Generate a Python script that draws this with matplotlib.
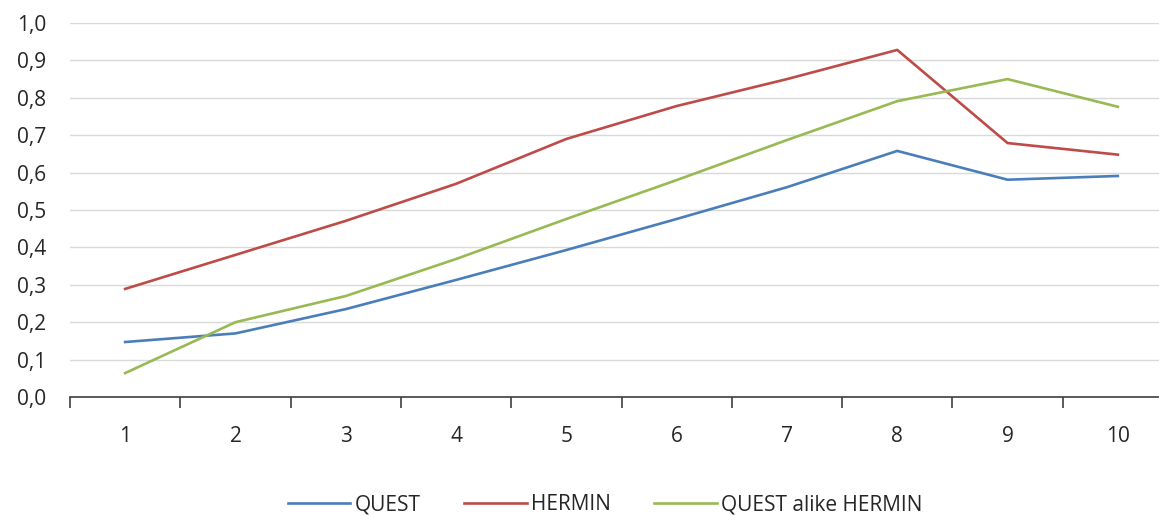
import matplotlib
matplotlib.use("Agg")
import matplotlib.pyplot as plt

plt.rcParams['font.family'] = ['Open Sans', 'DejaVu Sans']

x = [1, 2, 3, 4, 5, 6, 7, 8, 9, 10]
quest = [0.147, 0.170, 0.235, 0.313, 0.393, 0.476, 0.561, 0.658, 0.581, 0.591]
hermin = [0.289, 0.380, 0.471, 0.570, 0.690, 0.778, 0.850, 0.928, 0.679, 0.648]
quest_alike = [0.064, 0.200, 0.270, 0.369, 0.476, 0.580, 0.687, 0.791, 0.850, 0.776]
y_ticks = [0.0, 0.1, 0.2, 0.3, 0.4, 0.5, 0.6, 0.7, 0.8, 0.9, 1.0]

fig = plt.figure(figsize=(11.59, 5.15), dpi=100)
ax = fig.add_axes([70/1159, 1-397/515, 1103/1159, 374/515])

ax.plot(x, quest, color='#4a7ebb', lw=1.9, label='QUEST')
ax.plot(x, hermin, color='#be4b48', lw=1.9, label='HERMIN')
ax.plot(x, quest_alike, color='#98b954', lw=1.9, label='QUEST alike HERMIN')

ax.set_xlim(0.5, 10.5)
ax.set_ylim(0, 1.0)
ax.set_yticks(y_ticks)
ax.set_yticklabels([f"{v:.1f}".replace('.', ',') for v in y_ticks])
ax.set_xticks(x)
ax.set_xticks([i + 0.5 for i in range(0, 11)], minor=True)

ax.grid(axis='y', color='#d9d9d9', lw=1)
ax.set_axisbelow(True)
for s in ['top', 'right', 'left']:
    ax.spines[s].set_visible(False)
ax.spines['bottom'].set_color('#404040')
ax.spines['bottom'].set_linewidth(1.2)

ax.tick_params(axis='y', length=0, pad=17, labelsize=15, labelcolor='#262626')
ax.tick_params(axis='x', which='major', length=0, pad=21, labelsize=15, labelcolor='#262626')
ax.tick_params(axis='x', which='minor', length=8, width=1.2, color='#404040')

leg = fig.legend(loc='center', bbox_to_anchor=(0.522, 1-505/515), ncol=3, frameon=False,
                 handlelength=3.0, columnspacing=2.1, handletextpad=0.2,
                 prop={'size': 15})
for t in leg.get_texts():
    t.set_color('#262626')

plt.savefig('out.png', dpi=100)
